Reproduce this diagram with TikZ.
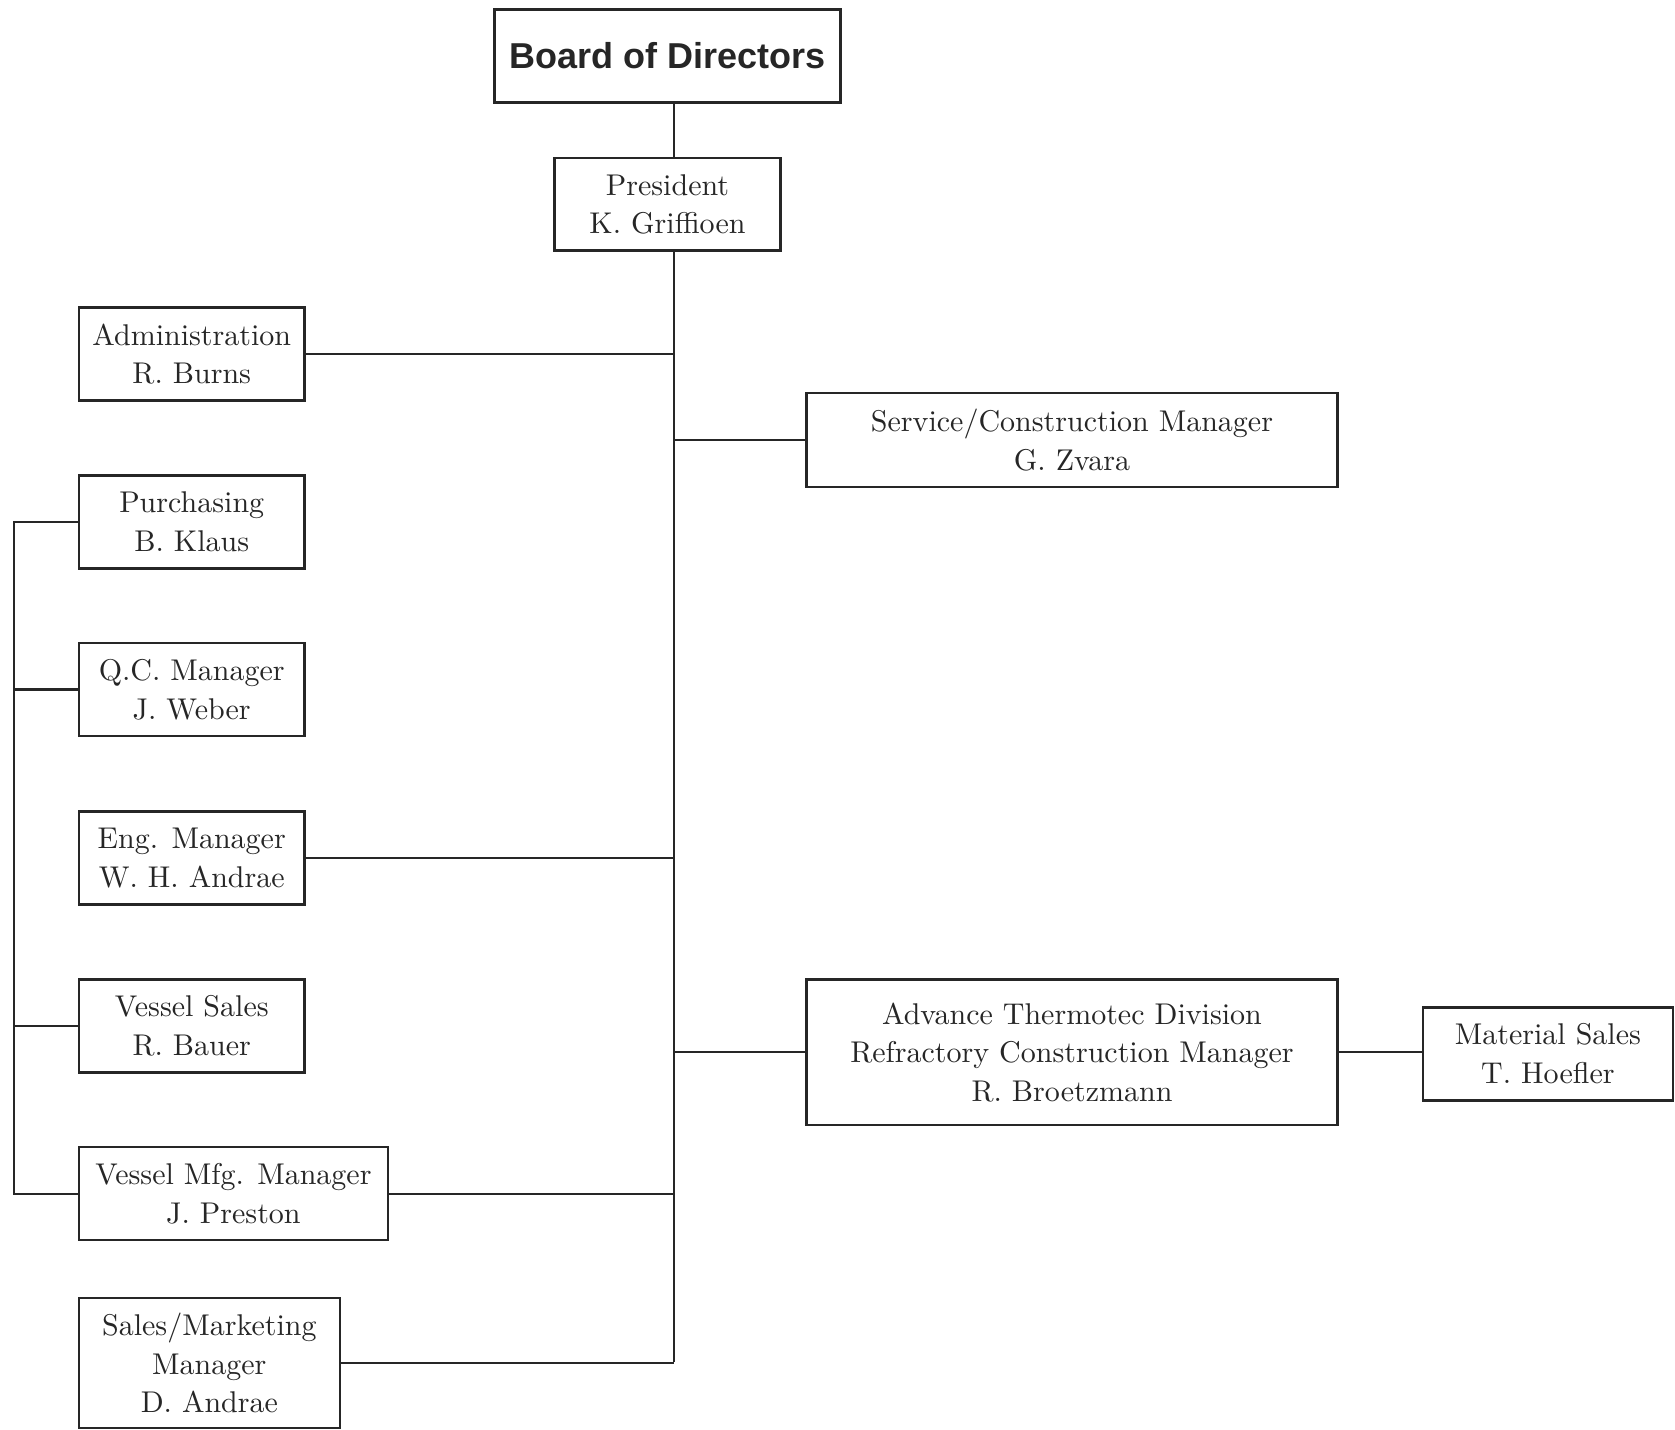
\documentclass[tikz,border=0pt]{standalone}
\usepackage{fontspec}
\setmainfont{lmroman10-regular}[Extension=.otf]
\newfontfamily\boardfont{Liberation Sans}
\begin{document}
\begin{tikzpicture}[x=0.5pt,y=-0.5pt,
  box/.style={draw=black!85,line width=1.2pt,rectangle,inner sep=0pt,align=center,
    font=\fontsize{15}{19.3}\selectfont,text=black!85},
  link/.style={draw=black!85,line width=1.2pt}]
\useasboundingbox (0,0) rectangle (1675,1429);
\node[box,minimum width=173pt,minimum height=46.5pt,font=\boardfont\fontsize{18}{22}\selectfont\bfseries] (board) at (667.5,56) {Board of Directors};
\node[box,minimum width=113pt,minimum height=46.25pt] (pres) at (667.5,204.25) {President\\K. Griffioen};
\node[box,minimum width=112.75pt,minimum height=46.5pt] (admin) at (191.75,354) {Administration\\R. Burns};
\node[box,minimum width=265.5pt,minimum height=47pt] (serv) at (1072,440) {Service/Construction Manager\\G. Zvara};
\node[box,minimum width=112.75pt,minimum height=46.5pt] (purch) at (191.75,521.8) {Purchasing\\B. Klaus};
\node[box,minimum width=112.75pt,minimum height=46.5pt] (qc) at (191.75,689.5) {Q.C. Manager\\J. Weber};
\node[box,minimum width=112.75pt,minimum height=46.5pt] (eng) at (191.75,857.8) {Eng. Manager\\W. H. Andrae};
\node[box,minimum width=112.75pt,minimum height=46.5pt] (vsales) at (191.75,1026) {Vessel Sales\\R. Bauer};
\node[box,minimum width=154.4pt,minimum height=46.5pt] (vmfg) at (233.4,1193.7) {Vessel Mfg. Manager\\J. Preston};
\node[box,minimum width=130.35pt,minimum height=65.15pt] (smkt) at (209.35,1363) {Sales/Marketing\\Manager\\D. Andrae};
\node[box,minimum width=265.5pt,minimum height=72.65pt] (adv) at (1072,1052.2) {Advance Thermotec Division\\Refractory Construction Manager\\R. Broetzmann};
\node[box,minimum width=125pt,minimum height=46.5pt] (mat) at (1547.9,1053.8) {Material Sales\\T. Hoefler};
\coordinate (trunk) at (674,0);
\coordinate (bracket) at (13.9,0);
\coordinate (trunkend) at (674,1362);
\draw[link] (board.south -| trunk) -- (pres.north -| trunk);
\draw[link] (pres.south -| trunk) -- (trunkend);
\draw[link] (admin.east) -- (admin.east -| trunk);
\draw[link] (serv.west) -- (serv.west -| trunk);
\draw[link] (eng.east) -- (eng.east -| trunk);
\draw[link] (adv.west) -- (adv.west -| trunk);
\draw[link] (vmfg.east) -- (vmfg.east -| trunk);
\draw[link] (smkt.east) -- (smkt.east -| trunk);
\draw[link] (adv.east) -- (mat.west |- adv.east);
\draw[link] (purch.west) -- (purch.west -| bracket) -- (vmfg.west -| bracket) -- (vmfg.west);
\draw[link] (qc.west) -- (qc.west -| bracket);
\draw[link] (vsales.west) -- (vsales.west -| bracket);
\end{tikzpicture}
\end{document}
